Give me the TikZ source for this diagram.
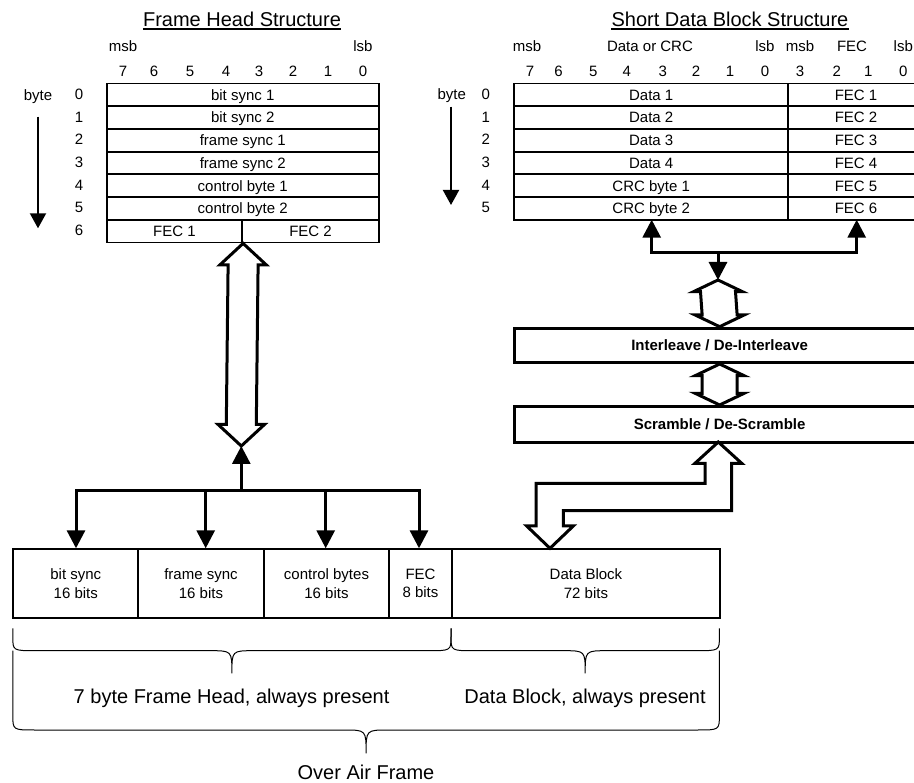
\documentclass[tikz,border=0pt]{standalone}
\usepackage{fontspec}
\setmainfont{Liberation Sans}
\usetikzlibrary{arrows.meta,calc}
\newcommand\fs{\fontsize{15}{18.4}\selectfont}
\newcommand\fl{\fontsize{20}{24}\selectfont}
\newcommand\hollowdbl[5]{\path[hollowarrow] (#1) -- ($(#1)+(#3,#5)$) -- ($(#1)+(#4,#5)$) -- ($(#2)+(#4,-#5)$) -- ($(#2)+(#3,-#5)$) -- (#2) -- ($(#2)+(-#3,-#5)$) -- ($(#2)+(-#4,-#5)$) -- ($(#1)+(-#4,#5)$) -- ($(#1)+(-#3,#5)$) -- cycle;}
\begin{document}
\begin{tikzpicture}[x=1pt,y=-1pt,
  txt/.style={font=\fs,inner sep=0pt,text height=10.7pt,text depth=0pt},
  ttl/.style={font=\fl,inner sep=0pt,text height=14.3pt,text depth=0pt},
  tabrow/.style={txt,draw,line width=1.8pt,minimum height=22.7pt,anchor=north west},
  proc/.style={draw,line width=3pt,font=\fs\bfseries,inner sep=0pt,text height=10.7pt,text depth=0pt,anchor=north west},
  fieldbox/.style={draw,line width=2pt,font=\fs,align=center,inner sep=0pt,minimum height=68.4pt,anchor=north west},
  conn/.style={line width=3pt,-{Triangle[length=18pt,width=18pt]}},
  thinarrow/.style={line width=2pt,-{Triangle[length=15pt,width=16pt]}},
  hollowarrow/.style={draw,line width=3pt,fill=white,line join=miter},
  bracepath/.style={draw,line width=1pt}]
\useasboundingbox (0,0) rectangle (914,783);
\clip (0,0) rectangle (914,783);

% ---------- Frame Head Structure ----------
\node[ttl,anchor=base] (T1) at (242,26.8) {Frame Head Structure};
\draw[line width=1.3pt] ([yshift=-2pt]T1.south west) -- ([yshift=-2pt]T1.south east);
\node[txt] (msbL) at (123,46.3) {msb};
\node[txt] (lsbL) at (363,46.3) {lsb};
\foreach \d/\x in {7/123,6/154,5/190,4/226,3/259,2/293,1/328,0/363}
  \node[txt] (hL\d) at (\x,70.8) {\d};
\node[txt] (byteL) at (38,95) {byte};
\foreach \i in {0,...,6}
  \node[txt] (bL\i) at (79,94.05+22.7*\i) {\i};
\coordinate (la1) at (38,116.7);
\coordinate (la2) at (38,228.3);
\draw[thinarrow] (la1) -- (la2);

\node[tabrow,minimum width=272.3pt] (L0) at (105.7,82.7) {bit sync 1};
\node[tabrow,minimum width=272.3pt] (L1) at (105.7,105.4) {bit sync 2};
\node[tabrow,minimum width=272.3pt] (L2) at (105.7,128.1) {frame sync 1};
\node[tabrow,minimum width=272.3pt] (L3) at (105.7,150.8) {frame sync 2};
\node[tabrow,minimum width=272.3pt] (L4) at (105.7,173.5) {control byte 1};
\node[tabrow,minimum width=272.3pt] (L5) at (105.7,196.2) {control byte 2};
\node[tabrow,minimum width=135.6pt] (L6a) at (105.7,218.9) {FEC 1};
\node[tabrow,minimum width=136.7pt] (L6b) at (241.3,218.9) {FEC 2};

% ---------- Short Data Block Structure ----------
\node[ttl,anchor=base] (T2) at (730,26.8) {Short Data Block Structure};
\draw[line width=1.3pt] ([yshift=-2pt]T2.south west) -- ([yshift=-2pt]T2.south east);
\node[txt] (msbR) at (527,46.3) {msb};
\node[txt] (docR) at (650,46.3) {Data or CRC};
\node[txt] (lsbR) at (765,46.3) {lsb};
\node[txt] (msbF) at (800,46.3) {msb};
\node[txt] (fecF) at (852,46.3) {FEC};
\node[txt] (lsbF) at (903.3,46.3) {lsb};
\foreach \d/\x in {7/530,6/558.5,5/593.3,4/626.7,3/662.7,2/696,1/730,0/765}
  \node[txt] (hR\d) at (\x,70.8) {\d};
\foreach \d/\x in {3/800,2/836.7,1/868.3,0/903.3}
  \node[txt] (hF\d) at (\x,70.8) {\d};
\node[txt] (byteR) at (451.7,94.3) {byte};
\foreach \i in {0,...,5}
  \node[txt] (bR\i) at (485.7,94.05+22.7*\i) {\i};
\coordinate (ra1) at (451,106.7);
\coordinate (ra2) at (451,205);
\draw[thinarrow] (ra1) -- (ra2);

\foreach \i/\t in {0/Data 1,1/Data 2,2/Data 3,3/Data 4,4/CRC byte 1,5/CRC byte 2}
  \node[tabrow,minimum width=274pt] (D\i) at (513.3,82.7+22.7*\i) {\t};
\foreach \i in {0,...,5}
  \node[tabrow,minimum width=135.7pt] (F\i) at (787.3,82.7+22.7*\i) {FEC \the\numexpr\i+1\relax};

% ---------- right-hand processing chain ----------
\coordinate (rj) at (718,252.7);
\coordinate (rLt) at (651.7,219.7);
\coordinate (rRt) at (856.7,219.7);
\coordinate (s1t) at (718,280);
\draw[conn] (rj) -| (rLt);
\draw[conn] (rj) -| (rRt);

\node[proc,minimum width=409.7pt,minimum height=34.3pt] (IL) at (513.3,326.7) {Interleave / De-Interleave};
\node[proc,minimum width=409.7pt,minimum height=35.7pt] (SC) at (513.3,405) {Scramble / De-Scramble};

\hollowdbl{s1t}{IL.north}{24.5}{17.5}{11.7}
\hollowdbl{IL.south}{SC.north}{24.5}{17.5}{11.7}
\draw[conn] (rj) -- (s1t);

% ---------- over air frame ----------
\node[fieldbox,minimum width=125pt] (bs) at (12.3,548.3) {bit sync\\16 bits};
\node[fieldbox,minimum width=125.4pt] (fsy) at (137.3,548.3) {frame sync\\16 bits};
\node[fieldbox,minimum width=125.6pt] (cb) at (262.7,548.3) {control bytes\\16 bits};
\node[fieldbox,minimum width=62.4pt] (fec) at (388.3,548.3) {FEC\\8 bits};
\node[fieldbox,minimum width=268.6pt] (db) at (450.7,548.3) {Data Block\\72 bits};

% scramble <-> data block bent hollow arrow
\coordinate (bt) at (718.3,442);
\coordinate (bb) at (550,548.3);
\path[hollowarrow] (bt) -- (741.7,463.3) -- (731.7,463.3) -- (731.7,510.7) -- (563.3,510.7) -- (563.3,526) -- (573.3,526) -- (bb) -- (526.7,526) -- (536,526) -- (536,483.3) -- (705,483.3) -- (705,463.3) -- (695,463.3) -- cycle;

% frame head long hollow arrow
\coordinate (hb) at (241.3,446);
\hollowdbl{L6a.south east}{hb}{23.3}{15}{21.6}

% distribution arrows
\coordinate (jc) at (241.3,491);
\coordinate (j2) at (205.7,491);
\coordinate (j3) at (325.7,491);
\coordinate (a1) at (76,548.3);
\coordinate (a2) at (205.7,548.3);
\coordinate (a3) at (325.7,548.3);
\coordinate (a4) at (419,548.3);
\draw[conn] (jc) -| (a1);
\draw[conn] (jc) -| (a4);
\draw[conn] (j2) -- (a2);
\draw[conn] (j3) -- (a3);
\draw[conn] (jc) -- (hb);

% ---------- braces ----------
\draw[bracepath] (12.8,628.3) -- (12.8,636.4) .. controls (12.8,650.7) .. (35.8,650.7) -- (209.9,650.7) .. controls (231.9,650.7) .. (231.9,673.3) .. controls (231.9,650.7) .. (253.9,650.7) -- (428,650.7) .. controls (451,650.7) .. (451,636.4) -- (451,628.3);
\draw[bracepath] (451,628.3) -- (451,636.4) .. controls (451,650.7) .. (474,650.7) -- (563.2,650.7) .. controls (585.2,650.7) .. (585.2,673.3) .. controls (585.2,650.7) .. (607.2,650.7) -- (696.4,650.7) .. controls (719.4,650.7) .. (719.4,636.4) -- (719.4,628.3);
\draw[bracepath] (12.8,650.7) -- (12.8,714.7) .. controls (12.8,730) .. (34.8,730) -- (344.1,730) .. controls (366.1,730) .. (366.1,753.3) .. controls (366.1,730) .. (388.1,730) -- (697.4,730) .. controls (719.4,730) .. (719.4,714.7) -- (719.4,650.7);

\node[ttl] (lab1) at (231.6,696.7) {7 byte Frame Head, always present};
\node[ttl] (lab2) at (585,696.7) {Data Block, always present};
\node[ttl] (lab3) at (366,772.5) {Over Air Frame};
\end{tikzpicture}
\end{document}
